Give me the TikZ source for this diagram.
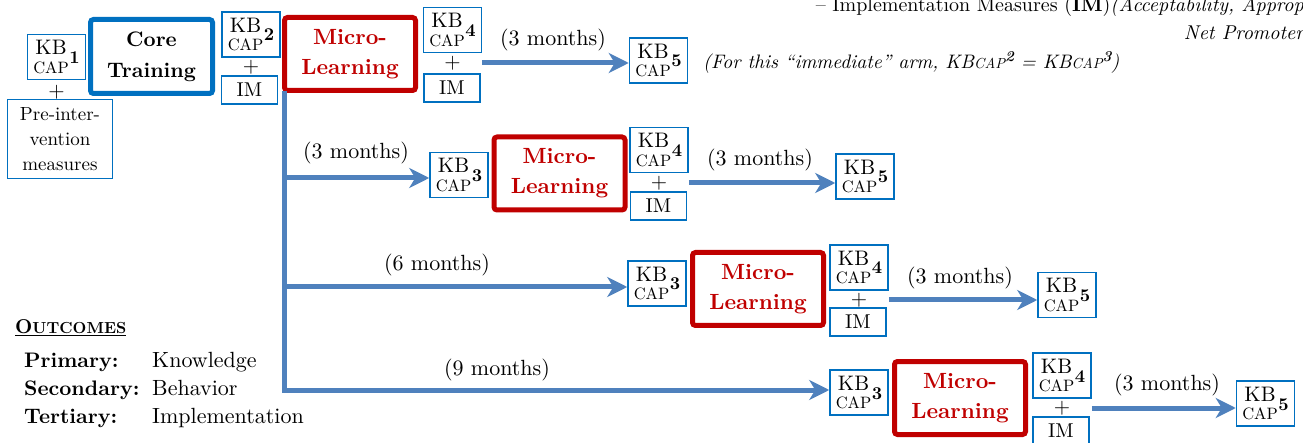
\documentclass[tikz,border=0pt]{standalone}
\usepackage{fontspec}
\setmainfont{lmroman10}[Extension=.otf, UprightFont=*-regular, BoldFont=*-bold,
  ItalicFont=*-italic, BoldItalicFont=*-bolditalic]
\usetikzlibrary{arrows.meta}

\definecolor{boxblue}{RGB}{0,112,192}
\definecolor{flowblue}{RGB}{79,129,189}
\definecolor{mlred}{RGB}{192,0,0}

% font size shorthand
\newcommand{\fs}[1]{\fontsize{#1}{#1}\selectfont}
% stacked "KB / CAP" measurement label with its bold index
\newcommand{\kbcap}[1]{%
  {\renewcommand{\arraystretch}{0}%
   \begin{tabular}{@{}c@{}}\fs{21}KB\\[7pt]\fs{16.5}CAP\end{tabular}}%
  \kern0.5pt\raisebox{-4pt}{\fs{18}\bfseries #1}}

\tikzset{
  kbbox/.style={draw=boxblue, line width=1.5pt, fill=white, minimum width=58pt,
    minimum height=45pt, inner sep=0pt, font=\fs{10}},
  imbox/.style={draw=boxblue, line width=1.5pt, minimum width=56pt,
    minimum height=28pt, inner sep=0pt, font=\fs{20}},
  prebox/.style={draw=boxblue, line width=1.5pt, minimum width=105pt,
    minimum height=79pt, inner sep=0pt, align=center,
    font=\fontsize{19}{25}\selectfont},
  corebox/.style={draw=boxblue, line width=5pt, rounded corners=3pt,
    minimum width=122pt, minimum height=74pt, inner sep=0pt, align=center,
    font=\fontsize{21}{31}\selectfont\bfseries},
  mlbox/.style={draw=mlred, line width=5pt, rounded corners=3pt,
    minimum width=131pt, minimum height=73pt, inner sep=0pt, align=center,
    text=mlred, font=\fontsize{22}{30}\selectfont\bfseries},
  plussign/.style={inner sep=0pt, font=\fs{21}},
  lbl/.style={inner sep=0pt, font=\fs{22}},
  flowarrow/.style={draw=flowblue, line width=5pt,
    -{Stealth[length=20pt,width=20pt,inset=6pt]}},
  oclabel/.style={anchor=base west, inner sep=0pt, font=\fs{21}\bfseries},
  ocvalue/.style={anchor=base west, inner sep=0pt, font=\fs{22}},
}

\begin{document}
\begin{tikzpicture}[x=1pt,y=-1pt]
\useasboundingbox (0,0) rectangle (1303,443);

% ---- pre-intervention and core training ----
\node[kbbox] (kb1) at (56.5,57) {\kbcap{1}};
\node[plussign] (p1) at (56.5,92) {+};
\node[prebox] (pre) at (60,139) {Pre-inter-\\vention\\measures};
\node[corebox] (core) at (151.5,56.5) {Core\\Training};
\node[kbbox] (kb2) at (251,34.5) {\kbcap{2}};
\node[plussign] (p2) at (251,67) {+};
\node[imbox] (im2) at (249.5,90) {IM};

% ---- immediate arm ----
\node[mlbox] (ml0) at (350,54) {Micro-\\Learning};
\node[kbbox] (kb4a) at (452.5,30) {\kbcap{4}};
\node[plussign] (p4a) at (452.5,63) {+};
\node[imbox] (im4a) at (452,88) {IM};
\node[kbbox] (kb5a) at (658.5,60.5) {\kbcap{5}};
\node[lbl] (m0) at (553,40) {(3 months)};
\draw[flowarrow] (kb4a.east |- p4a) -- (kb5a.west |- p4a);
\node[anchor=west, inner sep=0pt, font=\fs{19.5}\itshape] (note) at (703,62)
  {(For this “immediate” arm, KB{\fs{14.5}CAP}\raisebox{7pt}{\fs{15}\bfseries 2} = KB{\fs{14.5}CAP}\raisebox{7pt}{\fs{15}\bfseries 3})};

% ---- legend text at the top right ----
\node[anchor=base east, inner sep=0pt, font=\fs{20}] (imline) at (1304,12)
  {\textendash\ Implementation Measures (\textbf{IM})\textit{(Acceptability, Approp}};
\node[anchor=base east, inner sep=0pt, font=\fs{20}\itshape] (npline) at (1304,40)
  {Net Promoter};

% ---- delayed arms ----
\coordinate (t0) at (284.5,91);
\coordinate (b1) at (284.5,178);
\coordinate (b2) at (284.5,287);
\coordinate (b3) at (284.5,390);

% 3 months
\node[kbbox] (kb3b) at (459,175) {\kbcap{3}};
\node[mlbox] (ml1) at (559.5,173.5) {Micro-\\Learning};
\node[kbbox] (kb4b) at (659,150) {\kbcap{4}};
\node[plussign] (p4b) at (659,183) {+};
\node[imbox] (im4b) at (658.5,206) {IM};
\node[kbbox] (kb5b) at (865,176.5) {\kbcap{5}};
\node[lbl] (m1) at (356,153) {(3 months)};
\node[lbl] (m1b) at (760,160) {(3 months)};

% 6 months
\node[kbbox] (kb3c) at (657,283.5) {\kbcap{3}};
\node[mlbox] (ml2) at (758,289) {Micro-\\Learning};
\node[kbbox] (kb4c) at (859,267.5) {\kbcap{4}};
\node[plussign] (p4c) at (859,300) {+};
\node[imbox] (im4c) at (858,322) {IM};
\node[kbbox] (kb5c) at (1067,295) {\kbcap{5}};
\node[lbl] (m2) at (437,265) {(6 months)};
\node[lbl] (m2b) at (960,278) {(3 months)};

% 9 months
\node[kbbox] (kb3d) at (859,392.5) {\kbcap{3}};
\node[mlbox] (ml3) at (960,398) {Micro-\\Learning};
\node[kbbox] (kb4d) at (1062,375.5) {\kbcap{4}};
\node[plussign] (p4d) at (1062,408) {+};
\node[imbox] (im4d) at (1061,431) {IM};
\node[kbbox] (kb5d) at (1265.5,403.5) {\kbcap{5}};
\node[lbl] (m3) at (497,370) {(9 months)};
\node[lbl] (m3b) at (1167,385) {(3 months)};

% trunk and branches
\draw[flowarrow] (t0) -- (b3) -- (b3 -| kb3d.west);
\draw[flowarrow] (b1) -- (b1 -| kb3b.west);
\draw[flowarrow] (b2) -- (b2 -| kb3c.west);
\draw[flowarrow] (kb4b.east |- p4b) -- (kb5b.west |- p4b);
\draw[flowarrow] (kb4c.east |- p4c) -- (kb5c.west |- p4c);
\draw[flowarrow] (kb4d.east |- p4d) -- (kb5d.west |- p4d);

% ---- outcomes ----
\node[anchor=base west, inner sep=0pt, font=\bfseries] (oc) at (15,334)
  {\underline{\fs{20}O\fs{16}UTCOMES}};
\node[oclabel] (pri) at (24,367) {Primary:};
\node[ocvalue] (priv) at (152,367) {Knowledge};
\node[oclabel] (sec) at (24,395) {Secondary:};
\node[ocvalue] (secv) at (152,395) {Behavior};
\node[oclabel] (ter) at (24,423) {Tertiary:};
\node[ocvalue] (terv) at (152,423) {Implementation};
\end{tikzpicture}
\end{document}
